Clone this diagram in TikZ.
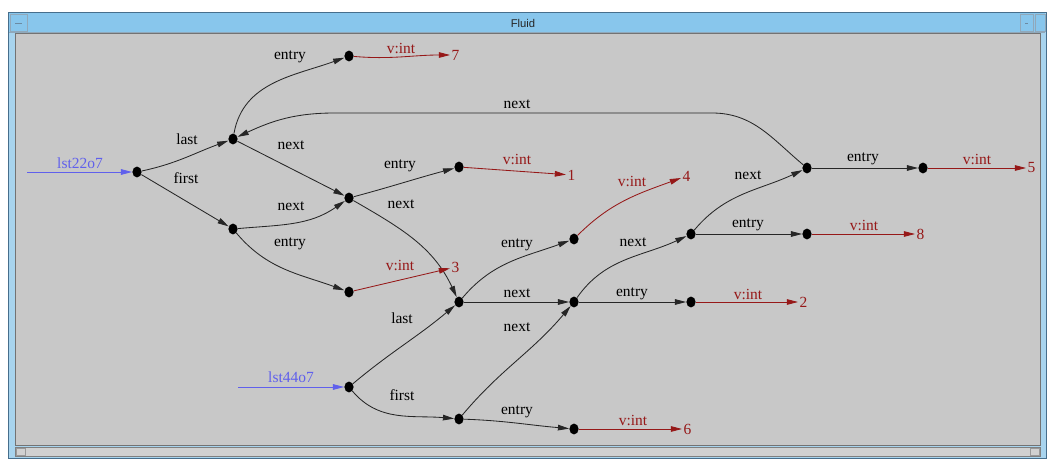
\documentclass[tikz,border=0pt]{standalone}
\usepackage{fontspec}
\setmainfont{Liberation Serif}
\setsansfont{Liberation Sans}
\usetikzlibrary{arrows.meta,shapes.geometric}

\definecolor{canvas}{RGB}{200,200,200}
\definecolor{titlebar}{RGB}{136,198,236}
\definecolor{framebg}{RGB}{168,212,238}
\definecolor{framedark}{RGB}{70,110,140}
\definecolor{valred}{RGB}{150,24,24}
\definecolor{rootblue}{RGB}{96,96,236}

\begin{document}
\begin{tikzpicture}[x=0.025cm,y=-0.025cm,
	dot/.style={ellipse,fill=black,inner sep=0pt,minimum width=0.23cm,minimum height=0.27cm},
	lab/.style={font=\fontsize{11}{13}\selectfont,inner sep=0pt},
	val/.style={lab,text=valred,anchor=west,inner sep=1pt},
	edge/.style={black!85,line width=0.6pt,-{Triangle[length=2.8mm,width=1.4mm]}},
	redge/.style={edge,valred},
	bedge/.style={edge,rootblue}]
	\useasboundingbox (0,0) rectangle (1047,459);

	% window frame
	\fill[white] (0,0) rectangle (1047,459);
	\fill[framebg] (8,12) rectangle (1046,458);
	\fill[titlebar] (9,13) rectangle (1045,32);
	\draw[framedark] (8,12) rectangle (1046,458);
	\draw[framedark!60] (9,32) -- (1045,32);
	\draw[framedark!60] (10,14) rectangle (27,31);
	\draw[framedark!80] (15,23) -- (22,23);
	\draw[framedark!60] (1020,14) rectangle (1033,31);
	\draw[framedark!80] (1025,23) -- (1028,23);
	\draw[framedark!60] (1035,14) rectangle (1045,31);
	\node[font=\sffamily\fontsize{8}{9}\selectfont,text=black!85] (title) at (523,23) {Fluid};

	% canvas and scroll bar
	\fill[canvas] (15,33) rectangle (1040,445);
	\draw[black!55] (15,33) rectangle (1040,445);
	\fill[black!18] (15,447) rectangle (1040,456);
	\draw[black!50] (15,447) rectangle (1040,456);
	\draw[black!40] (16,448) rectangle (25,455);
	\draw[black!40] (1030,448) rectangle (1039,455);

	% dots
	\node[dot] (a) at (137,172) {};
	\node[dot] (b) at (233,139) {};
	\node[dot] (c) at (233,229) {};
	\node[dot] (d) at (349,56) {};
	\node[dot] (e) at (349,198) {};
	\node[dot] (f) at (349,292) {};
	\node[dot] (g) at (459,167) {};
	\node[dot] (h) at (459,302) {};
	\node[dot] (i) at (574,239) {};
	\node[dot] (j) at (574,302) {};
	\node[dot] (k) at (691,302) {};
	\node[dot] (l) at (691,234) {};
	\node[dot] (m) at (807,234) {};
	\node[dot] (n) at (807,168) {};
	\node[dot] (o) at (923,168) {};
	\node[dot] (p) at (349,387) {};
	\node[dot] (q) at (459,419) {};
	\node[dot] (r) at (574,429) {};

	% values
	\node[val] (n7) at (450,55) {7};
	\node[val] (n1) at (566,175) {1};
	\node[val] (n3) at (450,267) {3};
	\node[val] (n4) at (681,176) {4};
	\node[val] (n2) at (798,302) {2};
	\node[val] (n8) at (915,234) {8};
	\node[val] (n6) at (682,429) {6};
	\node[val] (n5) at (1026,168) {5};

	% roots
	\coordinate (s1) at (27,172);
	\coordinate (s2) at (238,387);
	\draw[bedge] (s1) -- (a);
	\draw[bedge] (s2) -- (p);
	\node[lab,text=rootblue] (lst1) at (80,163) {lst22o7};
	\node[lab,text=rootblue] (lst2) at (291,377) {lst44o7};

	% list cells
	\draw[edge] (a) to[out=12,in=200] (b);
	\draw[edge] (a) -- (c);
	\draw[edge] (b) to[out=80,in=200] (d);
	\draw[edge] (b) -- (e);
	\draw[edge] (c) to[out=5,in=215] (e);
	\draw[edge] (c) to[out=-50,in=160] (f);
	\draw[edge] (e) to[out=15,in=195] (g);
	\draw[edge] (e) to[out=-30,in=115] (h);
	\draw[edge] (h) to[out=50,in=200] (i);
	\draw[edge] (h) -- (j);
	\draw[edge] (j) -- (k);
	\draw[edge] (j) to[out=55,in=205] (l);
	\draw[edge] (l) -- (m);
	\draw[edge] (l) to[out=50,in=205] (n);
	\draw[edge] (n) -- (o);
	\draw[edge] (p) to[out=40,in=220] (h);
	\draw[edge] (p) to[out=-50,in=175] (q);
	\draw[edge] (q) to[out=-2,in=175] (r);
	\draw[edge] (q) to[out=50,in=230] (j);

	% back link to the last cell
	\coordinate (nb1) at (712,113);
	\coordinate (nb2) at (335,113);
	\draw[edge] (n) to[out=140,in=0] (nb1) -- (nb2) to[out=180,in=25] (b);

	% values of the entries
	\draw[redge] (d) to[out=-5,in=180] (n7);
	\draw[redge] (g) -- (n1);
	\draw[redge] (f) -- (n3);
	\draw[redge] (i) to[out=45,in=200] (n4);
	\draw[redge] (k) -- (n2);
	\draw[redge] (m) -- (n8);
	\draw[redge] (r) -- (n6);
	\draw[redge] (o) -- (n5);

	% edge labels
	\node[lab] at (290,57) {entry};
	\node[lab] at (187,139) {last};
	\node[lab] at (186,178) {first};
	\node[lab] at (291,145) {next};
	\node[lab] at (291,206) {next};
	\node[lab] at (290,244) {entry};
	\node[lab] at (517,104) {next};
	\node[lab] at (400,166) {entry};
	\node[lab] at (401,204) {next};
	\node[lab] at (517,245) {entry};
	\node[lab] at (517,293) {next};
	\node[lab] at (517,327) {next};
	\node[lab] at (402,318) {last};
	\node[lab] at (402,395) {first};
	\node[lab] at (517,412) {entry};
	\node[lab] at (632,294) {entry};
	\node[lab] at (633,242) {next};
	\node[lab] at (748,225) {entry};
	\node[lab] at (748,175) {next};
	\node[lab] at (863,159) {entry};
	\node[lab,text=valred] at (401,48) {v:int};
	\node[lab,text=valred] at (517,159) {v:int};
	\node[lab,text=valred] at (400,265) {v:int};
	\node[lab,text=valred] at (632,181) {v:int};
	\node[lab,text=valred] at (748,294) {v:int};
	\node[lab,text=valred] at (864,225) {v:int};
	\node[lab,text=valred] at (977,159) {v:int};
	\node[lab,text=valred] at (633,420) {v:int};
\end{tikzpicture}
\end{document}
